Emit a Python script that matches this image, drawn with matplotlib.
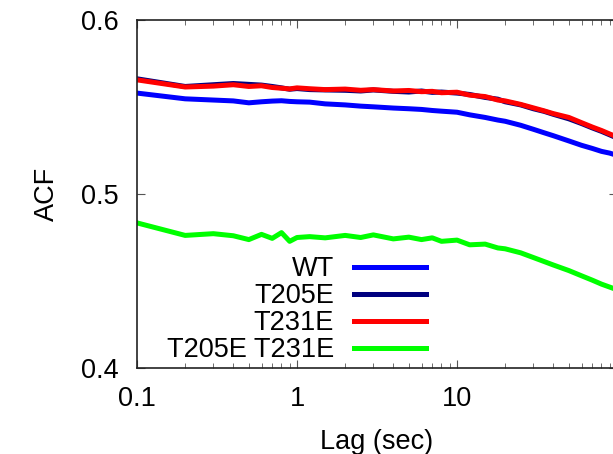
import numpy as np
import matplotlib
matplotlib.use('Agg')
import matplotlib.pyplot as plt
from matplotlib.ticker import LogLocator, FixedLocator, NullLocator

plt.rcParams['font.family'] = ['Liberation Sans', 'DejaVu Sans']

# lag times (sec)
lag = [0.1, 0.2, 0.3, 0.4, 0.5, 0.6, 0.7, 0.8, 0.9, 1.0, 1.2, 1.5, 2, 2.5, 3, 4, 5, 6, 7, 8,
       10, 12, 15, 18, 20, 25, 30, 35, 40, 50, 60, 70, 80, 90, 100]

acf_wt = [0.5580, 0.5547, 0.5540, 0.5535, 0.5524, 0.5530, 0.5534, 0.5536, 0.5532, 0.5530,
          0.5528, 0.5518, 0.5512, 0.5505, 0.5501, 0.5494, 0.5490, 0.5486, 0.5480, 0.5476,
          0.5470, 0.5455, 0.5440, 0.5425, 0.5418, 0.5395, 0.5372, 0.5352, 0.5335, 0.5305,
          0.5280, 0.5262, 0.5245, 0.5235, 0.5222]
acf_t205e = [0.5662, 0.5618, 0.5628, 0.5635, 0.5630, 0.5626, 0.5618, 0.5610, 0.5602, 0.5606,
             0.5600, 0.5598, 0.5596, 0.5592, 0.5598, 0.5590, 0.5586, 0.5592, 0.5584, 0.5586,
             0.5580, 0.5572, 0.5555, 0.5545, 0.5530, 0.5512, 0.5490, 0.5475, 0.5458, 0.5432,
             0.5405, 0.5380, 0.5360, 0.5340, 0.5322]
acf_t231e = [0.5656, 0.5615, 0.5620, 0.5628, 0.5618, 0.5622, 0.5612, 0.5608, 0.5604, 0.5610,
             0.5605, 0.5600, 0.5603, 0.5596, 0.5600, 0.5592, 0.5595, 0.5588, 0.5590, 0.5582,
             0.5585, 0.5568, 0.5560, 0.5540, 0.5535, 0.5515, 0.5495, 0.5478, 0.5462, 0.5440,
             0.5410, 0.5385, 0.5365, 0.5345, 0.5328]
acf_double = [0.4834, 0.4762, 0.4772, 0.4760, 0.4738, 0.4768, 0.4745, 0.4778, 0.4728, 0.4750,
              0.4755, 0.4748, 0.4762, 0.4750, 0.4765, 0.4742, 0.4752, 0.4738, 0.4748, 0.4728,
              0.4735, 0.4708, 0.4712, 0.4690, 0.4685, 0.4662, 0.4635, 0.4612, 0.4592, 0.4560,
              0.4530, 0.4505, 0.4482, 0.4465, 0.4450]

labels = ['WT', 'T205E', 'T231E', 'T205E T231E']
colors = ['#0000ff', '#00007f', '#ff0000', '#00ff00']
series = [acf_wt, acf_t205e, acf_t231e, acf_double]

xticks = [0.1, 1, 10, 100]
xticklabels = ['0.1', '1', '10', '']  # 100 falls outside the cropped picture

fig = plt.figure(figsize=(6.13, 4.54), dpi=100)
# axes run past the right edge of the figure, as in the reference crop
ax = fig.add_axes([137/613, 86/454, 480/613, 348/454])

for y, c, l in zip(series, colors, labels):
    ax.plot(lag, y, color=c, lw=3.6, label=l, solid_joinstyle='round')

ax.set_xscale('log')
ax.set_xlim(0.1, 100)
ax.set_ylim(0.4, 0.6)
ax.xaxis.set_major_locator(FixedLocator(xticks))
ax.xaxis.set_minor_locator(LogLocator(base=10, subs=np.arange(2, 10)))
ax.set_xticklabels(xticklabels)
ax.yaxis.set_major_locator(FixedLocator([0.4, 0.5, 0.6]))
ax.yaxis.set_minor_locator(NullLocator())
ax.set_yticklabels(['0.4', '0.5', '0.6'])

for s in ax.spines.values():
    s.set_linewidth(1.2)
    s.set_color('#222222')
ax.tick_params(which='both', direction='in', top=True, right=True,
               labelsize=19.5, color='#555555')
ax.tick_params(which='major', length=6, width=0.8)
ax.tick_params(which='minor', length=3.5, width=0.6)
ax.tick_params(axis='x', which='major', pad=13)
ax.tick_params(axis='y', which='major', pad=13)

ax.set_xlabel('Lag (sec)', fontsize=19.5, labelpad=12)
ax.set_ylabel('ACF', fontsize=19.5, labelpad=15)

leg = ax.legend(loc='lower left', bbox_to_anchor=(0.051, -0.002), markerfirst=False,
                frameon=False, fontsize=19.5, handlelength=2.65, handletextpad=0.75,
                labelspacing=0.04, borderpad=0.2, borderaxespad=0)
for h in leg.get_lines():
    h.set_linewidth(3.6)

fig.savefig('out.png', dpi=100)
